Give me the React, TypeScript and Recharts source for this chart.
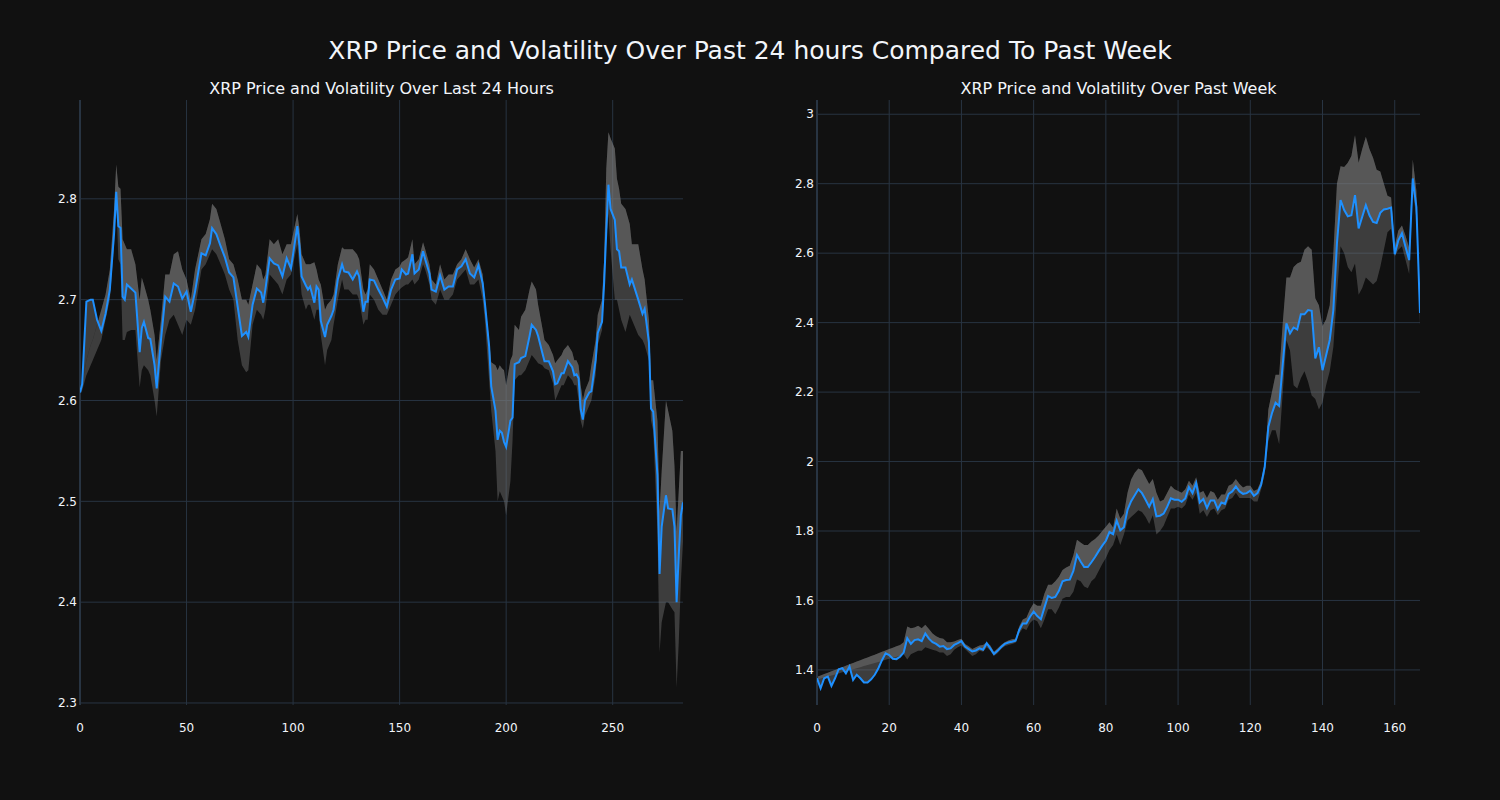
import React from 'react';
import {
    ComposedChart,
    Area,
    Line,
    XAxis,
    YAxis,
    CartesianGrid,
    ReferenceLine
} from 'recharts';

// last 24 hours (5 min steps)
const dayX = [
    0, 1, 3, 5, 6, 8, 10, 12, 14, 16, 17, 18, 19, 20, 21, 22, 24, 26, 28, 29,
    30, 32, 33, 35, 36, 38, 40, 42, 44, 46, 48, 50, 52, 54, 57, 59, 61, 62, 64, 66,
    68, 70, 72, 74, 76, 78, 79, 81, 83, 85, 86, 87, 89, 91, 93, 95, 97, 99, 101, 102,
    103, 104, 106, 107, 108, 110, 111, 112, 113, 115, 116, 118, 119, 121, 123, 124, 126, 128, 130, 131,
    133, 134, 135, 136, 138, 140, 142, 144, 146, 148, 150, 151, 153, 154, 156, 157, 159, 161, 162, 164,
    165, 167, 169, 171, 173, 175, 177, 179, 181, 183, 185, 187, 189, 190, 192, 193, 195, 196, 197, 198,
    199, 200, 202, 203, 204, 206, 207, 209, 211, 212, 214, 215, 217, 218, 220, 222, 223, 224, 226, 227,
    229, 231, 232, 233, 234, 235, 236, 237, 239, 240, 242, 243, 245, 246, 247, 248, 249, 251, 252, 253,
    254, 256, 258, 259, 262, 264, 265, 267, 268, 269, 271, 272, 273, 275, 276, 278, 279, 280, 281, 282,
    283
];
const dayPrice = [
    2.608, 2.616, 2.698, 2.700, 2.700, 2.680, 2.669, 2.686, 2.710, 2.766, 2.807, 2.773, 2.771, 2.703, 2.700, 2.715, 2.711, 2.707, 2.648, 2.672,
    2.678, 2.662, 2.661, 2.635, 2.612, 2.660, 2.703, 2.698, 2.716, 2.713, 2.701, 2.708, 2.688, 2.708, 2.746, 2.744, 2.756, 2.771, 2.765, 2.753,
    2.742, 2.727, 2.722, 2.693, 2.664, 2.668, 2.663, 2.695, 2.711, 2.707, 2.697, 2.710, 2.741, 2.736, 2.734, 2.723, 2.741, 2.731, 2.759, 2.773,
    2.753, 2.723, 2.714, 2.710, 2.713, 2.697, 2.713, 2.710, 2.679, 2.663, 2.675, 2.684, 2.690, 2.720, 2.735, 2.728, 2.727, 2.720, 2.728, 2.723,
    2.688, 2.698, 2.698, 2.720, 2.719, 2.710, 2.702, 2.693, 2.710, 2.720, 2.721, 2.730, 2.725, 2.726, 2.745, 2.726, 2.730, 2.748, 2.740, 2.726,
    2.710, 2.708, 2.724, 2.710, 2.713, 2.713, 2.730, 2.733, 2.740, 2.726, 2.722, 2.734, 2.716, 2.697, 2.654, 2.614, 2.590, 2.561, 2.570, 2.568,
    2.559, 2.554, 2.580, 2.583, 2.636, 2.638, 2.642, 2.644, 2.664, 2.675, 2.670, 2.664, 2.647, 2.639, 2.639, 2.629, 2.616, 2.617, 2.627, 2.627,
    2.639, 2.633, 2.625, 2.626, 2.622, 2.591, 2.581, 2.600, 2.608, 2.609, 2.640, 2.667, 2.678, 2.717, 2.768, 2.814, 2.790, 2.779, 2.750, 2.748,
    2.732, 2.732, 2.715, 2.720, 2.700, 2.686, 2.691, 2.658, 2.592, 2.589, 2.526, 2.428, 2.475, 2.506, 2.493, 2.492, 2.475, 2.400, 2.446, 2.486,
    2.499
];
const dayUpper = [
    2.610, 2.616, 2.640, 2.655, 2.660, 2.675, 2.690, 2.705, 2.730, 2.790, 2.834, 2.812, 2.810, 2.760, 2.755, 2.750, 2.750, 2.735, 2.700, 2.722,
    2.715, 2.700, 2.690, 2.665, 2.640, 2.680, 2.725, 2.725, 2.745, 2.748, 2.730, 2.720, 2.700, 2.730, 2.760, 2.765, 2.780, 2.795, 2.790, 2.775,
    2.760, 2.740, 2.735, 2.720, 2.700, 2.700, 2.695, 2.715, 2.735, 2.730, 2.720, 2.725, 2.760, 2.755, 2.760, 2.745, 2.755, 2.755, 2.775, 2.785,
    2.770, 2.745, 2.735, 2.735, 2.735, 2.737, 2.730, 2.720, 2.715, 2.690, 2.695, 2.700, 2.705, 2.735, 2.752, 2.750, 2.750, 2.750, 2.745, 2.740,
    2.710, 2.705, 2.710, 2.735, 2.730, 2.720, 2.710, 2.700, 2.720, 2.730, 2.733, 2.737, 2.740, 2.742, 2.760, 2.735, 2.740, 2.757, 2.750, 2.735,
    2.720, 2.715, 2.735, 2.720, 2.725, 2.725, 2.735, 2.740, 2.750, 2.740, 2.732, 2.740, 2.725, 2.700, 2.660, 2.638, 2.635, 2.630, 2.635, 2.632,
    2.630, 2.615, 2.640, 2.645, 2.675, 2.670, 2.683, 2.690, 2.710, 2.718, 2.710, 2.695, 2.672, 2.660, 2.655, 2.645, 2.637, 2.640, 2.645, 2.650,
    2.655, 2.648, 2.640, 2.640, 2.635, 2.615, 2.600, 2.610, 2.620, 2.635, 2.660, 2.685, 2.700, 2.740, 2.830, 2.866, 2.860, 2.850, 2.820, 2.810,
    2.795, 2.790, 2.775, 2.755, 2.755, 2.730, 2.720, 2.680, 2.620, 2.620, 2.580, 2.490, 2.530, 2.600, 2.590, 2.570, 2.535, 2.470, 2.510, 2.550,
    2.550
];
const dayLower = [
    2.605, 2.610, 2.625, 2.635, 2.640, 2.650, 2.660, 2.680, 2.700, 2.755, 2.800, 2.740, 2.735, 2.660, 2.660, 2.668, 2.670, 2.670, 2.613, 2.630,
    2.635, 2.630, 2.625, 2.600, 2.584, 2.640, 2.665, 2.680, 2.685, 2.675, 2.665, 2.680, 2.675, 2.690, 2.730, 2.735, 2.745, 2.750, 2.745, 2.735,
    2.725, 2.710, 2.700, 2.660, 2.635, 2.628, 2.630, 2.675, 2.690, 2.685, 2.680, 2.690, 2.725, 2.720, 2.715, 2.705, 2.720, 2.725, 2.745, 2.755,
    2.730, 2.705, 2.690, 2.695, 2.695, 2.680, 2.690, 2.690, 2.665, 2.635, 2.650, 2.660, 2.675, 2.700, 2.720, 2.710, 2.710, 2.705, 2.705, 2.700,
    2.675, 2.680, 2.680, 2.705, 2.700, 2.690, 2.685, 2.685, 2.695, 2.705, 2.710, 2.712, 2.715, 2.715, 2.720, 2.715, 2.720, 2.735, 2.730, 2.715,
    2.700, 2.695, 2.710, 2.700, 2.700, 2.705, 2.720, 2.725, 2.730, 2.715, 2.715, 2.720, 2.700, 2.680, 2.620, 2.590, 2.550, 2.500, 2.510, 2.505,
    2.500, 2.486, 2.520, 2.560, 2.620, 2.625, 2.625, 2.630, 2.640, 2.645, 2.640, 2.637, 2.635, 2.632, 2.630, 2.617, 2.600, 2.605, 2.615, 2.615,
    2.625, 2.620, 2.615, 2.615, 2.600, 2.580, 2.572, 2.585, 2.595, 2.600, 2.625, 2.655, 2.670, 2.710, 2.760, 2.785, 2.750, 2.700, 2.700, 2.690,
    2.680, 2.668, 2.685, 2.680, 2.665, 2.660, 2.655, 2.640, 2.580, 2.570, 2.470, 2.350, 2.380, 2.400, 2.400, 2.393, 2.390, 2.315, 2.360, 2.420,
    2.460
];

// past week (hourly)
const weekPrice = [
    1.376, 1.347, 1.376, 1.381, 1.354, 1.376, 1.402, 1.405, 1.390, 1.410, 1.371, 1.386, 1.376, 1.364, 1.364, 1.373, 1.386, 1.405, 1.428, 1.448,
    1.443, 1.432, 1.431, 1.438, 1.450, 1.491, 1.475, 1.486, 1.488, 1.483, 1.505, 1.490, 1.480, 1.475, 1.467, 1.469, 1.460, 1.462, 1.472, 1.477,
    1.483, 1.467, 1.460, 1.453, 1.456, 1.462, 1.458, 1.477, 1.462, 1.446, 1.455, 1.466, 1.475, 1.479, 1.481, 1.484, 1.515, 1.534, 1.534, 1.553,
    1.568, 1.555, 1.546, 1.580, 1.613, 1.607, 1.610, 1.628, 1.655, 1.659, 1.660, 1.685, 1.731, 1.712, 1.696, 1.696, 1.710, 1.725, 1.742, 1.758,
    1.772, 1.797, 1.791, 1.830, 1.802, 1.811, 1.861, 1.886, 1.903, 1.920, 1.909, 1.890, 1.870, 1.892, 1.842, 1.844, 1.850, 1.870, 1.894, 1.890,
    1.890, 1.884, 1.894, 1.926, 1.909, 1.938, 1.882, 1.892, 1.866, 1.888, 1.888, 1.863, 1.882, 1.878, 1.907, 1.914, 1.928, 1.914, 1.907, 1.909,
    1.916, 1.901, 1.909, 1.933, 1.985, 2.100, 2.139, 2.169, 2.160, 2.282, 2.398, 2.369, 2.386, 2.380, 2.424, 2.424, 2.436, 2.434, 2.297, 2.329,
    2.263, 2.306, 2.350, 2.436, 2.628, 2.753, 2.724, 2.706, 2.709, 2.767, 2.671, 2.705, 2.738, 2.709, 2.690, 2.687, 2.716, 2.726, 2.728, 2.731,
    2.597, 2.637, 2.657, 2.618, 2.580, 2.815, 2.733, 2.428
];
const weekUpper = [
    1.380, 1.384, 1.388, 1.392, 1.396, 1.400, 1.404, 1.408, 1.412, 1.416, 1.420, 1.424, 1.428, 1.432, 1.436, 1.440, 1.444, 1.448, 1.452, 1.456,
    1.460, 1.464, 1.468, 1.472, 1.480, 1.525, 1.520, 1.522, 1.527, 1.520, 1.530, 1.518, 1.505, 1.497, 1.492, 1.490, 1.480, 1.480, 1.482, 1.486,
    1.490, 1.475, 1.468, 1.460, 1.465, 1.470, 1.472, 1.480, 1.470, 1.452, 1.462, 1.472, 1.480, 1.485, 1.488, 1.490, 1.525, 1.545, 1.550, 1.575,
    1.592, 1.585, 1.585, 1.620, 1.645, 1.645, 1.655, 1.668, 1.688, 1.695, 1.700, 1.730, 1.775, 1.767, 1.760, 1.760, 1.770, 1.777, 1.787, 1.800,
    1.812, 1.825, 1.810, 1.865, 1.835, 1.850, 1.910, 1.948, 1.968, 1.980, 1.975, 1.955, 1.935, 1.950, 1.910, 1.885, 1.890, 1.910, 1.930, 1.920,
    1.915, 1.910, 1.920, 1.945, 1.930, 1.955, 1.910, 1.915, 1.895, 1.915, 1.910, 1.890, 1.905, 1.905, 1.930, 1.935, 1.950, 1.935, 1.925, 1.930,
    1.930, 1.915, 1.920, 1.945, 1.995, 2.150, 2.200, 2.250, 2.250, 2.400, 2.530, 2.530, 2.560, 2.570, 2.575, 2.610, 2.620, 2.610, 2.470, 2.450,
    2.390, 2.410, 2.450, 2.600, 2.800, 2.850, 2.848, 2.860, 2.880, 2.940, 2.860, 2.900, 2.935, 2.900, 2.875, 2.840, 2.835, 2.800, 2.765, 2.760,
    2.620, 2.665, 2.680, 2.650, 2.615, 2.870, 2.780, 2.440
];
const weekLower = [
    1.372, 1.375, 1.378, 1.381, 1.384, 1.387, 1.390, 1.393, 1.396, 1.399, 1.402, 1.405, 1.408, 1.411, 1.414, 1.417, 1.420, 1.423, 1.426, 1.429,
    1.432, 1.435, 1.438, 1.441, 1.445, 1.430, 1.445, 1.450, 1.455, 1.455, 1.465, 1.462, 1.458, 1.455, 1.450, 1.450, 1.440, 1.445, 1.458, 1.465,
    1.470, 1.460, 1.450, 1.440, 1.445, 1.455, 1.452, 1.465, 1.455, 1.440, 1.448, 1.460, 1.468, 1.472, 1.475, 1.478, 1.505, 1.520, 1.515, 1.535,
    1.545, 1.540, 1.520, 1.545, 1.575, 1.575, 1.560, 1.580, 1.605, 1.610, 1.610, 1.625, 1.660, 1.655, 1.640, 1.635, 1.655, 1.665, 1.685, 1.705,
    1.722, 1.745, 1.760, 1.790, 1.760, 1.790, 1.830, 1.840, 1.850, 1.860, 1.855, 1.840, 1.820, 1.845, 1.790, 1.800, 1.815, 1.840, 1.865, 1.865,
    1.870, 1.865, 1.875, 1.905, 1.890, 1.910, 1.850, 1.860, 1.840, 1.860, 1.865, 1.845, 1.860, 1.865, 1.890, 1.895, 1.910, 1.895, 1.895, 1.895,
    1.895, 1.885, 1.885, 1.920, 1.965, 2.060, 2.090, 2.090, 2.050, 2.200, 2.350, 2.320, 2.220, 2.210, 2.240, 2.260, 2.230, 2.190, 2.180, 2.150,
    2.170, 2.220, 2.260, 2.330, 2.480, 2.620, 2.600, 2.560, 2.545, 2.570, 2.480, 2.500, 2.530, 2.520, 2.510, 2.520, 2.560, 2.610, 2.660, 2.670,
    2.590, 2.610, 2.620, 2.580, 2.540, 2.780, 2.700, 2.390
];

const dayXTicks = [0, 50, 100, 150, 200, 250];
const dayYTicks = [2.3, 2.4, 2.5, 2.6, 2.7, 2.8];
const weekXTicks = [0, 20, 40, 60, 80, 100, 120, 140, 160];
const weekYTicks = [1.4, 1.6, 1.8, 2, 2.2, 2.4, 2.6, 2.8, 3];

const FONT = '"DejaVu Sans", "Open Sans", sans-serif';
const TEXT = '#f2f5fa';
const GRID = '#283442';

const buildRows = (xs: number[], price: number[], upper: number[], lower: number[]) =>
    xs.map((x, i) => ({
        x,
        price: price[i],
        band: [lower[i], upper[i]],
        above: [price[i], upper[i]]
    }));

interface PanelProps {
    rows: any[];
    left: number;
    xDomain: [number, number];
    yDomain: [number, number];
    xTicks: number[];
    yTicks: number[];
}

const Panel: React.FC<PanelProps> = ({ rows, left, xDomain, yDomain, xTicks, yTicks }) => {
    const tick = { fill: TEXT, fontSize: 12, fontFamily: FONT };
    return (
        <div style={{ position: 'absolute', left, top: 0 }}>
            <ComposedChart
                width={700}
                height={800}
                data={rows}
                margin={{ top: 100, right: 17, bottom: 0, left: 0 }}
            >
                <CartesianGrid
                    stroke={GRID}
                    strokeWidth={1}
                    horizontalValues={yTicks}
                    verticalValues={xTicks}
                />
                <XAxis
                    dataKey='x'
                    type='number'
                    domain={xDomain}
                    ticks={xTicks}
                    allowDataOverflow
                    axisLine={false}
                    tickLine={false}
                    tickSize={0}
                    tickMargin={18}
                    height={95}
                    tick={tick}
                    interval={0}
                />
                <YAxis
                    type='number'
                    domain={yDomain}
                    ticks={yTicks}
                    allowDataOverflow
                    axisLine={false}
                    tickLine={false}
                    tickSize={0}
                    tickMargin={3}
                    width={80}
                    tick={tick}
                    interval={0}
                    tickFormatter={(v: number) => String(v)}
                />
                <ReferenceLine x={0} stroke={GRID} strokeWidth={2} />
                <Area
                    type='linear'
                    dataKey='band'
                    stroke='none'
                    fill='rgb(128,128,128)'
                    fillOpacity={0.4}
                    isAnimationActive={false}
                />
                <Area
                    type='linear'
                    dataKey='above'
                    stroke='none'
                    fill='rgb(128,128,128)'
                    fillOpacity={0.4}
                    isAnimationActive={false}
                />
                <Line
                    type='linear'
                    dataKey='price'
                    stroke='#1e90ff'
                    strokeWidth={2}
                    dot={false}
                    isAnimationActive={false}
                />
            </ComposedChart>
        </div>
    );
};

const App: React.FC = () => {
    const dayRows = buildRows(dayX, dayPrice, dayUpper, dayLower);
    const weekRows = buildRows(weekPrice.map((_, i) => i), weekPrice, weekUpper, weekLower);
    return (
        <div
            style={{
                position: 'absolute',
                left: 0,
                top: 0,
                width: 1500,
                height: 800,
                background: '#111111',
                fontFamily: FONT,
                color: TEXT,
                overflow: 'hidden'
            }}
        >
            <div style={{ position: 'absolute', left: 0, width: 1500, top: 36, textAlign: 'center', fontSize: 25 }}>
                XRP Price and Volatility Over Past 24 hours Compared To Past Week
            </div>
            <div style={{ position: 'absolute', left: 80, width: 603, top: 79, textAlign: 'center', fontSize: 16 }}>
                XRP Price and Volatility Over Last 24 Hours
            </div>
            <div style={{ position: 'absolute', left: 817, width: 603, top: 79, textAlign: 'center', fontSize: 16 }}>
                XRP Price and Volatility Over Past Week
            </div>
            <Panel
                rows={dayRows}
                left={0}
                xDomain={[0, 283]}
                yDomain={[2.298, 2.898]}
                xTicks={dayXTicks}
                yTicks={dayYTicks}
            />
            <Panel
                rows={weekRows}
                left={737}
                xDomain={[0, 167]}
                yDomain={[1.299, 3.041]}
                xTicks={weekXTicks}
                yTicks={weekYTicks}
            />
        </div>
    );
};

export default App;
